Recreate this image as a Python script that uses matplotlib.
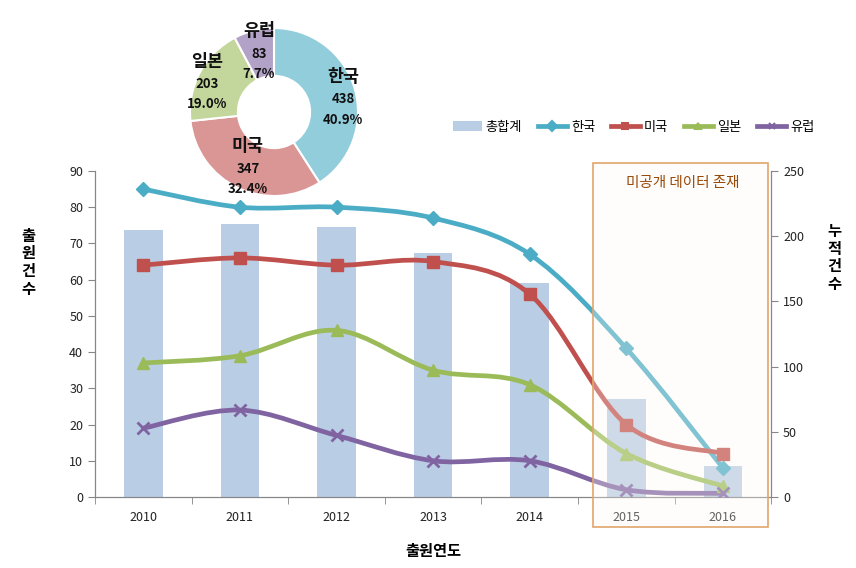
import matplotlib
matplotlib.use("Agg")
import matplotlib.pyplot as plt
from matplotlib.path import Path
from matplotlib.patches import PathPatch, Rectangle, Patch
from matplotlib.lines import Line2D

plt.rcParams['font.family'] = ['Noto Sans CJK KR', 'DejaVu Sans']

# data
years = ['2010', '2011', '2012', '2013', '2014', '2015', '2016']
korea = [85, 80, 80, 77, 67, 41, 8]
usa = [64, 66, 64, 65, 56, 20, 12]
japan = [37, 39, 46, 35, 31, 12, 3]
europe = [19, 24, 17, 10, 10, 2, 1]
total = [205, 209, 207, 187, 164, 75, 24]

pie_names = ['한국', '미국', '일본', '유럽']
pie_counts = [438, 347, 203, 83]
pie_pcts = ['40.9%', '32.4%', '19.0%', '7.7%']

series = [
    ('한국', korea, '#4bacc6', 'D', 7),
    ('미국', usa, '#c0504d', 's', 8),
    ('일본', japan, '#9bbb59', '^', 8),
    ('유럽', europe, '#8064a2', 'x', 8),
]


def smooth_path(xs, ys):
    # excel style smoothed line (catmull-rom bezier)
    n = len(xs)
    verts = [(xs[0], ys[0])]
    codes = [Path.MOVETO]
    for i in range(n - 1):
        i0, i3 = max(i - 1, 0), min(i + 2, n - 1)
        c1 = (xs[i] + (xs[i + 1] - xs[i0]) / 6, ys[i] + (ys[i + 1] - ys[i0]) / 6)
        c2 = (xs[i + 1] - (xs[i3] - xs[i]) / 6, ys[i + 1] - (ys[i3] - ys[i]) / 6)
        verts += [c1, c2, (xs[i + 1], ys[i + 1])]
        codes += [Path.CURVE4] * 3
    return Path(verts, codes)


fig = plt.figure(figsize=(8.56, 5.68), dpi=100)
ax = fig.add_axes([0.111, 0.125, 0.79, 0.574])
ax2 = ax.twinx()
x = list(range(len(years)))

# bars on the cumulative (right) scale
ax.bar(x, total, width=0.4, color='#b9cde5', edgecolor='none', zorder=1)
ax.set_ylim(0, 250)
ax.set_xlim(-0.5, 6.5)
ax.yaxis.tick_right()
ax.yaxis.set_label_position('right')
ax.set_yticks(range(0, 251, 50))

ax2.set_ylim(0, 90)
ax2.yaxis.tick_left()
ax2.yaxis.set_label_position('left')
ax2.set_yticks(range(0, 91, 10))
for name, vals, col, mk, ms in series:
    ax2.add_patch(PathPatch(smooth_path(x, vals), fill=False, edgecolor=col,
                            lw=3.4, capstyle='round', joinstyle='round', zorder=2))
    ax2.plot(x, vals, linestyle='none', marker=mk, ms=ms, color=col,
             mec=col, mew=2 if mk == 'x' else 1, zorder=3)

for a in (ax, ax2):
    a.spines['top'].set_visible(False)
    for s in ('left', 'right', 'bottom'):
        a.spines[s].set_color('#868686')
    a.tick_params(colors='#868686', labelcolor='#222222', labelsize=9, length=5)

ax.set_xticks(x)
ax.set_xticklabels(years)
ax.set_xticks([i + 0.5 for i in range(-1, 7)], minor=True)
ax.tick_params(axis='x', which='major', length=0, pad=10)
ax.tick_params(axis='x', which='minor', length=5, color='#868686')

ax2.set_ylabel('출\n원\n건\n수', rotation=0, fontsize=11, fontweight='bold',
               va='center', ha='center', linespacing=1.12)
ax.set_ylabel('누\n적\n건\n수', rotation=0, fontsize=11, fontweight='bold',
              va='center', ha='center', linespacing=1.12)
ax2.yaxis.set_label_coords(-0.099, 0.72)
ax.yaxis.set_label_coords(1.093, 0.735)
ax.set_xlabel('출원연도', fontsize=11, fontweight='bold', labelpad=14)

# undisclosed data box
fig.add_artist(Rectangle((593 / 856, 1 - 527 / 568), 175 / 856, 364 / 568,
                         transform=fig.transFigure, facecolor='#fffaf2',
                         alpha=0.3, edgecolor='none', zorder=5))
fig.add_artist(Rectangle((593 / 856, 1 - 527 / 568), 175 / 856, 364 / 568,
                         transform=fig.transFigure, facecolor='none',
                         edgecolor='#e2a66c', lw=1.2, zorder=6))
fig.text(683 / 856, 1 - 183 / 568, '미공개 데이터 존재', color='#984807',
         fontsize=10.5, style='italic', ha='center', va='center', zorder=7)

# legend
handles = [Patch(facecolor='#b9cde5', edgecolor='none')]
labels = ['총합계']
for name, vals, col, mk, ms in series:
    handles.append(Line2D([], [], color=col, lw=3.4, marker=mk, ms=5, mew=1.5))
    labels.append(name)
fig.legend(handles, labels, loc='center', bbox_to_anchor=(0.74, 1 - 127 / 568),
           ncol=5, frameon=False, fontsize=9.5, handlelength=2.2,
           handletextpad=0.3, columnspacing=1.2)

# donut
pax = fig.add_axes([190 / 856, 1 - 196 / 568, 168 / 856, 168 / 568], zorder=8)
pax.pie(pie_counts, colors=['#92cddc', '#da9694', '#c3d69b', '#b3a2c7'],
        startangle=90, counterclock=False, radius=1,
        wedgeprops=dict(width=0.57, edgecolor='white', linewidth=1.5))
pax.set_xlim(-1, 1)
pax.set_ylim(-1, 1)
pax.set_aspect('equal')
label_pos = [(0.82, 0.15), (-0.31, -0.68), (-0.80, 0.33), (-0.18, 0.69)]
for (px, py), nm, cnt, pct in zip(label_pos, pie_names, pie_counts, pie_pcts):
    pax.text(px, py + 0.27, nm, ha='center', va='center', fontsize=12.5,
             fontweight='bold', color='#111111')
    pax.text(px, py, str(cnt), ha='center', va='center', fontsize=9.5,
             fontweight='bold', color='#111111')
    pax.text(px, py - 0.24, pct, ha='center', va='center', fontsize=9.5,
             fontweight='bold', color='#111111')

fig.savefig('out.png', dpi=100)
